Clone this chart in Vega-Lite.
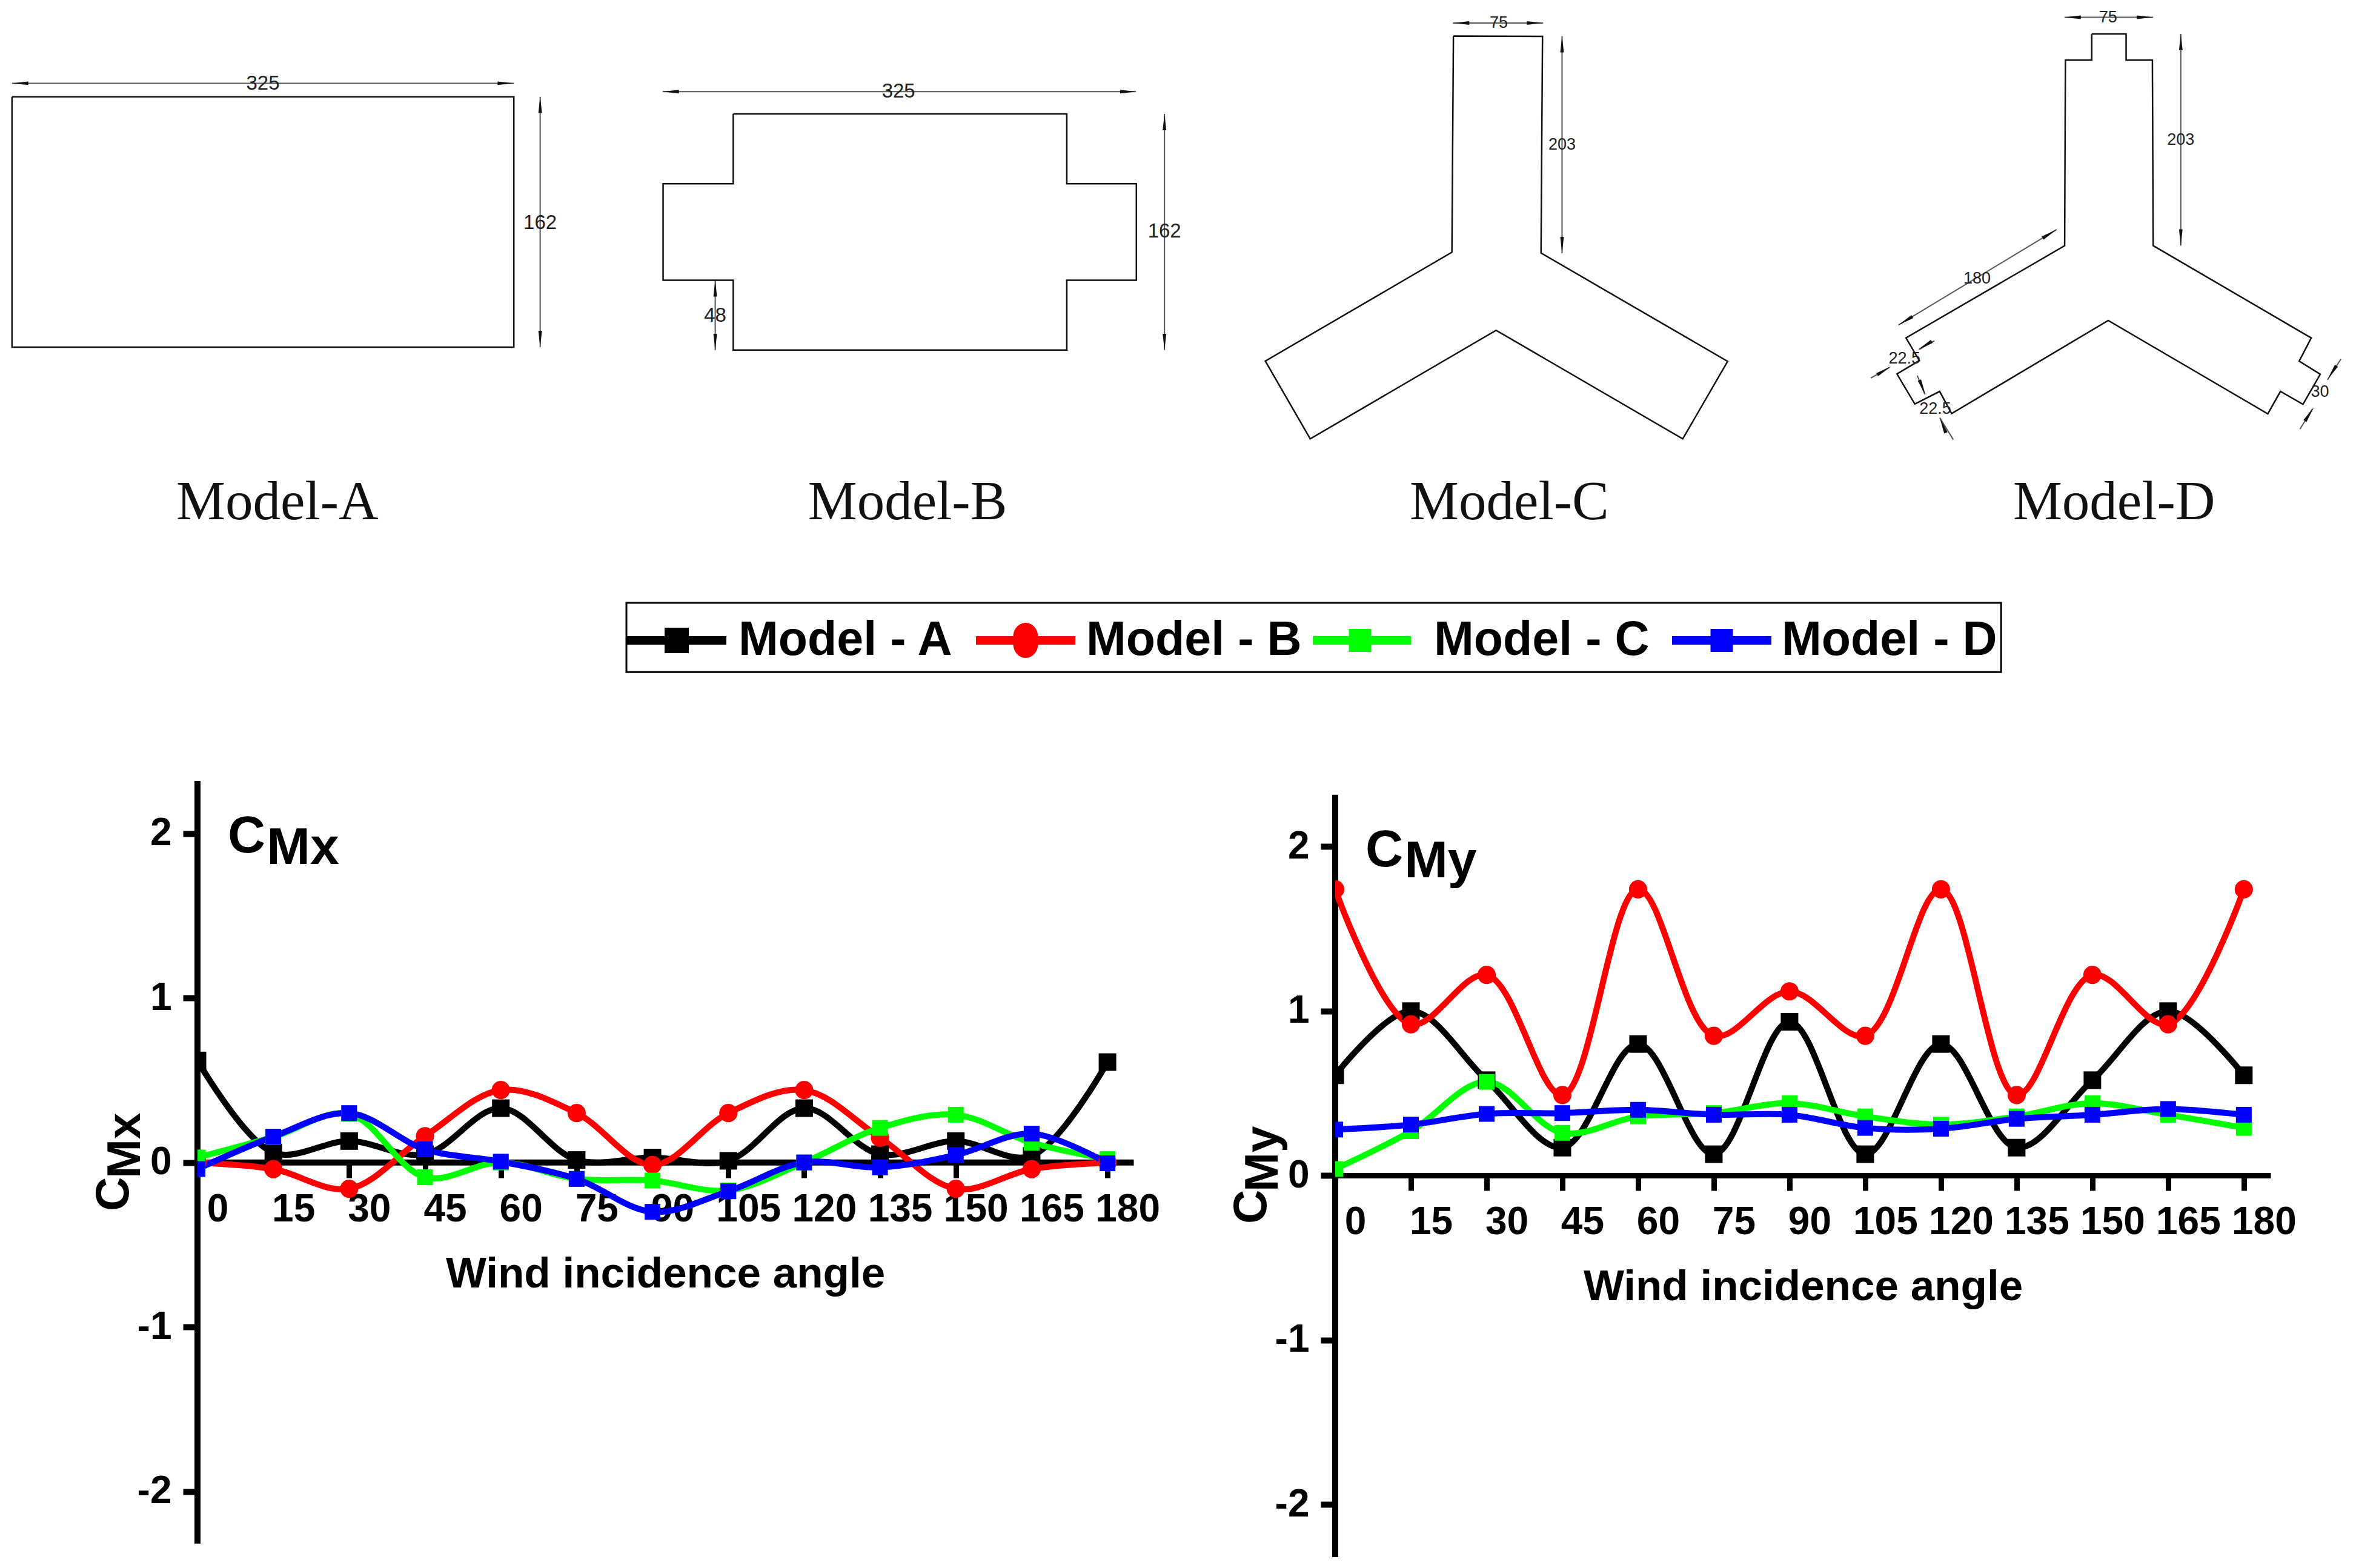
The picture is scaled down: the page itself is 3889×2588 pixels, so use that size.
{"$schema":"https://vega.github.io/schema/vega-lite/v6.json","padding":0,"background":"white","config":{"view":{"stroke":null},"font":"Liberation Sans"},
"datasets":{
"outline":[
{"p":"A","s":1,"x":8,"y":64.4},{"p":"A","s":2,"x":342,"y":64.4},{"p":"A","s":3,"x":342,"y":231},{"p":"A","s":4,"x":8,"y":231},{"p":"A","s":5,"x":8,"y":64.4},
{"p":"B","s":1,"x":488,"y":75.8},{"p":"B","s":2,"x":710,"y":75.8},{"p":"B","s":3,"x":710,"y":122.3},{"p":"B","s":4,"x":756.3,"y":122.3},{"p":"B","s":5,"x":756.3,"y":186.5},{"p":"B","s":6,"x":710,"y":186.5},{"p":"B","s":7,"x":710,"y":233},{"p":"B","s":8,"x":488,"y":233},{"p":"B","s":9,"x":488,"y":186.5},{"p":"B","s":10,"x":441.3,"y":186.5},{"p":"B","s":11,"x":441.3,"y":122.3},{"p":"B","s":12,"x":488,"y":122.3},{"p":"B","s":13,"x":488,"y":75.8},
{"p":"C","s":1,"x":967.3,"y":24},{"p":"C","s":2,"x":1026.6,"y":24.2},{"p":"C","s":3,"x":1025.6,"y":168.4},{"p":"C","s":4,"x":1149.8,"y":240.5},{"p":"C","s":5,"x":1119.9,"y":292.1},{"p":"C","s":6,"x":995.7,"y":219.8},{"p":"C","s":7,"x":872,"y":292.1},{"p":"C","s":8,"x":842.1,"y":240.3},{"p":"C","s":9,"x":966.3,"y":167.9},{"p":"C","s":10,"x":967.3,"y":24},
{"p":"D","s":1,"x":1392.1,"y":22.6},{"p":"D","s":2,"x":1415,"y":22.6},{"p":"D","s":3,"x":1415,"y":40},{"p":"D","s":4,"x":1432.5,"y":40},{"p":"D","s":5,"x":1433,"y":163.5},{"p":"D","s":6,"x":1538.2,"y":224.9},{"p":"D","s":7,"x":1530.2,"y":240.3},{"p":"D","s":8,"x":1544.2,"y":249.1},{"p":"D","s":9,"x":1532.7,"y":269.1},{"p":"D","s":10,"x":1517.7,"y":260.5},{"p":"D","s":11,"x":1509.3,"y":275.4},{"p":"D","s":12,"x":1403.1,"y":213.3},{"p":"D","s":13,"x":1298.9,"y":275.2},{"p":"D","s":14,"x":1290.9,"y":260.5},{"p":"D","s":15,"x":1274.4,"y":268.9},{"p":"D","s":16,"x":1262.5,"y":248.9},{"p":"D","s":17,"x":1277.4,"y":240},{"p":"D","s":18,"x":1268.5,"y":224.9},{"p":"D","s":19,"x":1374.1,"y":163.5},{"p":"D","s":20,"x":1374.6,"y":40},{"p":"D","s":21,"x":1392.1,"y":40},{"p":"D","s":22,"x":1392.1,"y":22.6}],
"dims":[
{"p":"a1","s":1,"x":8,"y":55.4},{"p":"a1","s":2,"x":342,"y":55.4},{"p":"a2","s":1,"x":359.5,"y":64.4},{"p":"a2","s":2,"x":359.5,"y":231},
{"p":"b1","s":1,"x":441,"y":61},{"p":"b1","s":2,"x":756,"y":61},{"p":"b2","s":1,"x":775,"y":75.8},{"p":"b2","s":2,"x":775,"y":233},{"p":"b3","s":1,"x":476,"y":186.5},{"p":"b3","s":2,"x":476,"y":233},
{"p":"c1","s":1,"x":967,"y":15.3},{"p":"c1","s":2,"x":1027,"y":15.3},{"p":"c2","s":1,"x":1039.6,"y":24},{"p":"c2","s":2,"x":1039.6,"y":168.5},
{"p":"d1","s":1,"x":1374,"y":11.5},{"p":"d1","s":2,"x":1433,"y":11.5},{"p":"d2","s":1,"x":1451.4,"y":22.6},{"p":"d2","s":2,"x":1451.4,"y":163.5},
{"p":"d3","s":1,"x":1368.7,"y":152.8},{"p":"d3","s":2,"x":1263.5,"y":216.3},
{"p":"d4","s":1,"x":1287.4,"y":226.8},{"p":"d4","s":2,"x":1277.4,"y":232.6},{"p":"d5","s":1,"x":1257.5,"y":244.5},{"p":"d5","s":2,"x":1245,"y":251.7},
{"p":"d6","s":1,"x":1276,"y":250},{"p":"d6","s":2,"x":1281,"y":262.4},{"p":"d7","s":1,"x":1291,"y":278},{"p":"d7","s":2,"x":1300,"y":292.6},
{"p":"d8","s":1,"x":1558,"y":238.9},{"p":"d8","s":2,"x":1549,"y":252.8},{"p":"d9","s":1,"x":1539,"y":272.1},{"p":"d9","s":2,"x":1530.7,"y":285.6}],
"arrows":[
{"x":13.4,"y":55.4,"a":270},{"x":336.6,"y":55.4,"a":90},{"x":359.5,"y":69.8,"a":0},{"x":359.5,"y":225.6,"a":180},
{"x":446.4,"y":61,"a":270},{"x":750.9,"y":61,"a":90},{"x":775,"y":81.2,"a":0},{"x":775,"y":227.6,"a":180},{"x":476,"y":191.9,"a":0},{"x":476,"y":227.6,"a":180},
{"x":972.4,"y":15.3,"a":270},{"x":1021.6,"y":15.3,"a":90},{"x":1039.6,"y":29.4,"a":0},{"x":1039.6,"y":163.1,"a":180},
{"x":1379.4,"y":11.5,"a":270},{"x":1427.6,"y":11.5,"a":90},{"x":1451.4,"y":28,"a":0},{"x":1451.4,"y":158.1,"a":180},
{"x":1364.1,"y":155.6,"a":59},{"x":1268.1,"y":213.5,"a":239},{"x":1281,"y":230,"a":239},{"x":1254,"y":246.6,"a":59},{"x":1279.5,"y":258,"a":158},{"x":1293,"y":283,"a":338},{"x":1552,"y":248,"a":213},{"x":1537,"y":275.6,"a":33}],
"dimLarge":[{"t":"325","x":175,"y":55.5},{"t":"162","x":359.5,"y":148.5},{"t":"325","x":598,"y":61},{"t":"162","x":775,"y":154},{"t":"48","x":476,"y":210}],
"dimSmall":[{"t":"75","x":997.5,"y":15.5},{"t":"203","x":1039.6,"y":96.5},{"t":"75","x":1403,"y":11.5},{"t":"203","x":1451.4,"y":93},{"t":"180","x":1315.8,"y":185.4},{"t":"22.5","x":1267.5,"y":238.9},{"t":"22.5","x":1288,"y":272},{"t":"30","x":1544,"y":261}],
"names":[{"t":"Model-A","x":184.6,"y":345.5},{"t":"Model-B","x":604,"y":345.5},{"t":"Model-C","x":1004.5,"y":345.5},{"t":"Model-D","x":1407,"y":345.5}],
"legendBox":[{"x":416.9,"x2":1331.8,"y":401.2,"y2":447.3}],
"cmx":[
{"angle":0,"model":"Model - A","value":0.62},{"angle":15,"model":"Model - A","value":0.06},{"angle":30,"model":"Model - A","value":0.13},{"angle":45,"model":"Model - A","value":0.05},{"angle":60,"model":"Model - A","value":0.33},{"angle":75,"model":"Model - A","value":0.015},{"angle":90,"model":"Model - A","value":0.03},{"angle":105,"model":"Model - A","value":0.01},{"angle":120,"model":"Model - A","value":0.33},{"angle":135,"model":"Model - A","value":0.05},{"angle":150,"model":"Model - A","value":0.13},{"angle":165,"model":"Model - A","value":0.04},{"angle":180,"model":"Model - A","value":0.61},
{"angle":0,"model":"Model - B","value":0},{"angle":15,"model":"Model - B","value":-0.04},{"angle":30,"model":"Model - B","value":-0.16},{"angle":45,"model":"Model - B","value":0.16},{"angle":60,"model":"Model - B","value":0.44},{"angle":75,"model":"Model - B","value":0.3},{"angle":90,"model":"Model - B","value":-0.015},{"angle":105,"model":"Model - B","value":0.3},{"angle":120,"model":"Model - B","value":0.44},{"angle":135,"model":"Model - B","value":0.15},{"angle":150,"model":"Model - B","value":-0.16},{"angle":165,"model":"Model - B","value":-0.04},{"angle":180,"model":"Model - B","value":0},
{"angle":0,"model":"Model - C","value":0.03},{"angle":15,"model":"Model - C","value":0.155},{"angle":30,"model":"Model - C","value":0.295},{"angle":45,"model":"Model - C","value":-0.09},{"angle":60,"model":"Model - C","value":0},{"angle":75,"model":"Model - C","value":-0.1},{"angle":90,"model":"Model - C","value":-0.11},{"angle":105,"model":"Model - C","value":-0.17},{"angle":120,"model":"Model - C","value":0},{"angle":135,"model":"Model - C","value":0.21},{"angle":150,"model":"Model - C","value":0.29},{"angle":165,"model":"Model - C","value":0.12},{"angle":180,"model":"Model - C","value":0.02},
{"angle":0,"model":"Model - D","value":-0.04},{"angle":15,"model":"Model - D","value":0.157},{"angle":30,"model":"Model - D","value":0.3},{"angle":45,"model":"Model - D","value":0.08},{"angle":60,"model":"Model - D","value":0.005},{"angle":75,"model":"Model - D","value":-0.1},{"angle":90,"model":"Model - D","value":-0.3},{"angle":105,"model":"Model - D","value":-0.175},{"angle":120,"model":"Model - D","value":0},{"angle":135,"model":"Model - D","value":-0.03},{"angle":150,"model":"Model - D","value":0.045},{"angle":165,"model":"Model - D","value":0.175},{"angle":180,"model":"Model - D","value":-0.005}],
"cmy":[
{"angle":0,"model":"Model - A","value":0.61},{"angle":15,"model":"Model - A","value":1},{"angle":30,"model":"Model - A","value":0.58},{"angle":45,"model":"Model - A","value":0.17},{"angle":60,"model":"Model - A","value":0.8},{"angle":75,"model":"Model - A","value":0.13},{"angle":90,"model":"Model - A","value":0.935},{"angle":105,"model":"Model - A","value":0.13},{"angle":120,"model":"Model - A","value":0.8},{"angle":135,"model":"Model - A","value":0.17},{"angle":150,"model":"Model - A","value":0.58},{"angle":165,"model":"Model - A","value":1},{"angle":180,"model":"Model - A","value":0.61},
{"angle":0,"model":"Model - B","value":1.74},{"angle":15,"model":"Model - B","value":0.92},{"angle":30,"model":"Model - B","value":1.22},{"angle":45,"model":"Model - B","value":0.49},{"angle":60,"model":"Model - B","value":1.74},{"angle":75,"model":"Model - B","value":0.85},{"angle":90,"model":"Model - B","value":1.12},{"angle":105,"model":"Model - B","value":0.85},{"angle":120,"model":"Model - B","value":1.74},{"angle":135,"model":"Model - B","value":0.49},{"angle":150,"model":"Model - B","value":1.22},{"angle":165,"model":"Model - B","value":0.92},{"angle":180,"model":"Model - B","value":1.74},
{"angle":0,"model":"Model - C","value":0.04},{"angle":15,"model":"Model - C","value":0.27},{"angle":30,"model":"Model - C","value":0.57},{"angle":45,"model":"Model - C","value":0.26},{"angle":60,"model":"Model - C","value":0.36},{"angle":75,"model":"Model - C","value":0.38},{"angle":90,"model":"Model - C","value":0.44},{"angle":105,"model":"Model - C","value":0.36},{"angle":120,"model":"Model - C","value":0.31},{"angle":135,"model":"Model - C","value":0.36},{"angle":150,"model":"Model - C","value":0.44},{"angle":165,"model":"Model - C","value":0.37},{"angle":180,"model":"Model - C","value":0.29},
{"angle":0,"model":"Model - D","value":0.28},{"angle":15,"model":"Model - D","value":0.31},{"angle":30,"model":"Model - D","value":0.375},{"angle":45,"model":"Model - D","value":0.38},{"angle":60,"model":"Model - D","value":0.4},{"angle":75,"model":"Model - D","value":0.37},{"angle":90,"model":"Model - D","value":0.37},{"angle":105,"model":"Model - D","value":0.29},{"angle":120,"model":"Model - D","value":0.285},{"angle":135,"model":"Model - D","value":0.345},{"angle":150,"model":"Model - D","value":0.37},{"angle":165,"model":"Model - D","value":0.405},{"angle":180,"model":"Model - D","value":0.37}]
},
"bounds":"flush","spacing":0,
"vconcat":[
{"width":3889,"height":1289,
"encoding":{"x":{"field":"x","type":"quantitative","axis":null,"scale":{"domain":[0,1568],"nice":false,"zero":false}},"y":{"field":"y","type":"quantitative","axis":null,"scale":{"domain":[519.76,0],"nice":false,"zero":false}}},
"layer":[
{"data":{"name":"legendBox"},"mark":{"type":"rect","fill":"white","stroke":"black","strokeWidth":3},"encoding":{"x2":{"field":"x2"},"y2":{"field":"y2"}}},
{"data":{"name":"dims"},"mark":{"type":"line","stroke":"#555555","strokeWidth":2},"encoding":{"detail":{"field":"p"},"order":{"field":"s","type":"quantitative"}}},
{"data":{"name":"outline"},"mark":{"type":"line","stroke":"#111111","strokeWidth":2.5},"encoding":{"detail":{"field":"p"},"order":{"field":"s","type":"quantitative"}}},
{"data":{"name":"arrows"},"mark":{"type":"point","filled":true,"fill":"#111111","stroke":null,"opacity":1,"shape":"M0,-1L0.22,1L-0.22,1Z","size":729},"encoding":{"angle":{"field":"a","type":"quantitative","scale":null}}},
{"data":{"name":"dimLarge"},"mark":{"type":"text","fontSize":33,"font":"Liberation Sans","color":"#222222"},"encoding":{"text":{"field":"t"}}},
{"data":{"name":"dimSmall"},"mark":{"type":"text","fontSize":27,"font":"Liberation Sans","color":"#222222"},"encoding":{"text":{"field":"t"}}},
{"data":{"name":"names"},"mark":{"type":"text","fontSize":91,"font":"Liberation Serif","color":"#111111","baseline":"alphabetic"},"encoding":{"text":{"field":"t"}}}
]},
{"bounds":"flush","spacing":325,
"hconcat":[
{"width":1,"height":1,"data":{"values":[]},"mark":{"type":"text"},"encoding":{}},
{"width":1553,"height":1281,"data":{"name":"cmx"},
"encoding":{"x":{"field":"angle","type":"quantitative","scale":{"domain":[0,186.1],"nice":false,"zero":false},"axis":{"values":[0,15,30,45,60,75,90,105,120,135,150,165,180],"title":"Wind incidence angle","titleFont":"Liberation Sans","titleFontSize":71,"titleFontWeight":"bold","titleColor":"black","titlePadding":40,"titleX":772,"labelFont":"Liberation Sans","labelFontSize":64,"labelFontWeight":"bold","labelColor":"black","labelOffset":33,"labelPadding":20,"labelFlush":false,"labelOverlap":false,"labelAngle":0,"domain":false,"tickColor":"black","tickWidth":9,"tickSize":25,"grid":false,"offset":-651}},
"y":{"field":"value","type":"quantitative","scale":{"domain":[-2.399,2.319],"nice":false,"zero":false},"axis":{"values":[-2,-1,0,1,2],"labelExpr":"''+datum.value","title":null,"labelFont":"Liberation Sans","labelFontSize":64,"labelFontWeight":"bold","labelColor":"black","labelPadding":19,"domain":false,"tickColor":"black","tickWidth":10,"tickSize":24,"grid":false}}},
"layer":[
{"data":{"values":[{"x0":0,"y1":-2.317,"y2":2.319}]},"mark":{"type":"rule","stroke":"black","strokeWidth":10},"encoding":{"x":{"field":"x0","type":"quantitative"},"y":{"field":"y1","type":"quantitative"},"y2":{"field":"y2"}}},
{"data":{"values":[{"x1":0,"x2":185.2,"y0":0}]},"mark":{"type":"rule","stroke":"black","strokeWidth":10},"encoding":{"x":{"field":"x1","type":"quantitative"},"x2":{"field":"x2"},"y":{"field":"y0","type":"quantitative"}}},
{"mark":{"type":"line","interpolate":"catmull-rom","strokeWidth":10,"clip":true},"encoding":{"color":{"field":"model","type":"nominal","scale":{"domain":["Model - A","Model - B","Model - C","Model - D"],"range":["#000000","#ff0000","#00ff00","#0000ff"]}}}},
{"transform":[{"filter":"datum.model==='Model - A'"}],"mark":{"type":"point","filled":true,"opacity":1,"shape":"square","size":841,"clip":true},"encoding":{"color":{"field":"model","type":"nominal"}}},
{"transform":[{"filter":"datum.model==='Model - B'"}],"mark":{"type":"point","filled":true,"opacity":1,"shape":"circle","size":908,"clip":true},"encoding":{"color":{"field":"model","type":"nominal"}}},
{"transform":[{"filter":"datum.model==='Model - C'||datum.model==='Model - D'"}],"mark":{"type":"point","filled":true,"opacity":1,"shape":"square","size":676,"clip":true},"encoding":{"color":{"field":"model","type":"nominal"}}},
{"data":{"values":[]},"mark":{"type":"point","filled":true},"encoding":{"x":{"field":"angle","type":"quantitative"},"y":{"field":"value","type":"quantitative"},"color":{"field":"model","type":"nominal","legend":{"orient":"none","legendX":1019,"legendY":1012,"columns":4,"columnPadding":18,"title":null,"padding":0,"symbolSize":8100,"symbolOpacity":1,"symbolStrokeWidth":0,"labelFont":"Liberation Sans","labelFontSize":79,"labelFontWeight":"bold","labelColor":"black","labelOffset":110,"labelLimit":600}},"shape":{"field":"model","type":"nominal","scale":{"domain":["Model - A","Model - B","Model - C","Model - D"],"range":["M-.644,-.156H.733V-.467H1.622V-.156H3V.156H1.622V.467H.733V.156H-.644Z","M-.6,-.156H.767A.456,.511 0 0 1 1.678,-.156H3.044V.156H1.678A.456,.511 0 0 1 .767,.156H-.6Z","M-1,-.156H.322V-.422H1.144V-.156H2.6V.156H1.144V.422H.322V.156H-1Z","M-.578,-.156H.833V-.422H1.656V-.156H3.067V.156H1.656V.422H.833V.156H-.578Z"]}}}},
{"data":{"values":[{"t":"C","a":6.0,"v":1.885}]},"mark":{"type":"text","fontSize":86,"fontWeight":"bold","font":"Liberation Sans","color":"black","align":"left","baseline":"alphabetic"},"encoding":{"x":{"field":"a","type":"quantitative"},"y":{"field":"v","type":"quantitative"},"text":{"field":"t"}}},
{"data":{"values":[{"t":"Mx","a":13.7,"v":1.816}]},"mark":{"type":"text","fontSize":86,"fontWeight":"bold","font":"Liberation Sans","color":"black","align":"left","baseline":"alphabetic"},"encoding":{"x":{"field":"a","type":"quantitative"},"y":{"field":"v","type":"quantitative"},"text":{"field":"t"}}},
{"data":{"values":[{"t":"C","a":-13.7,"v":-0.296}]},"mark":{"type":"text","fontSize":78,"fontWeight":"bold","font":"Liberation Sans","color":"black","align":"left","baseline":"alphabetic","angle":270},"encoding":{"x":{"field":"a","type":"quantitative"},"y":{"field":"v","type":"quantitative"},"text":{"field":"t"}}},
{"data":{"values":[{"t":"Mx","a":-11.4,"v":-0.097}]},"mark":{"type":"text","fontSize":78,"fontWeight":"bold","font":"Liberation Sans","color":"black","align":"left","baseline":"alphabetic","angle":270},"encoding":{"x":{"field":"a","type":"quantitative"},"y":{"field":"v","type":"quantitative"},"text":{"field":"t"}}}
]},
{"width":1544,"height":1281,"data":{"name":"cmy"},
"encoding":{"x":{"field":"angle","type":"quantitative","scale":{"domain":[0,185.3],"nice":false,"zero":false},"axis":{"values":[0,15,30,45,60,75,90,105,120,135,150,165,180],"title":"Wind incidence angle","titleFont":"Liberation Sans","titleFontSize":71,"titleFontWeight":"bold","titleColor":"black","titlePadding":40,"labelFont":"Liberation Sans","labelFontSize":64,"labelFontWeight":"bold","labelColor":"black","labelOffset":33,"labelPadding":20,"labelFlush":false,"labelOverlap":false,"labelAngle":0,"domainWidth":9,"domainColor":"black","tickColor":"black","tickWidth":9,"tickSize":25,"grid":false,"offset":-630}},
"y":{"field":"value","type":"quantitative","scale":{"domain":[-2.319,2.399],"nice":false,"zero":false},"axis":{"values":[-2,-1,0,1,2],"labelExpr":"''+datum.value","title":null,"labelFont":"Liberation Sans","labelFontSize":64,"labelFontWeight":"bold","labelColor":"black","labelPadding":19,"domain":false,"tickColor":"black","tickWidth":10,"tickSize":24,"grid":false}}},
"layer":[
{"data":{"values":[{"x0":0,"y1":-2.319,"y2":2.315}]},"mark":{"type":"rule","stroke":"black","strokeWidth":10},"encoding":{"x":{"field":"x0","type":"quantitative"},"y":{"field":"y1","type":"quantitative"},"y2":{"field":"y2"}}},
{"mark":{"type":"line","interpolate":"catmull-rom","strokeWidth":10,"clip":true},"encoding":{"color":{"field":"model","type":"nominal"}}},
{"transform":[{"filter":"datum.model==='Model - A'"}],"mark":{"type":"point","filled":true,"opacity":1,"shape":"square","size":841,"clip":true},"encoding":{"color":{"field":"model","type":"nominal"}}},
{"transform":[{"filter":"datum.model==='Model - B'"}],"mark":{"type":"point","filled":true,"opacity":1,"shape":"circle","size":908,"clip":true},"encoding":{"color":{"field":"model","type":"nominal"}}},
{"transform":[{"filter":"datum.model==='Model - C'||datum.model==='Model - D'"}],"mark":{"type":"point","filled":true,"opacity":1,"shape":"square","size":676,"clip":true},"encoding":{"color":{"field":"model","type":"nominal"}}},
{"data":{"values":[{"t":"C","a":6.0,"v":1.88}]},"mark":{"type":"text","fontSize":86,"fontWeight":"bold","font":"Liberation Sans","color":"black","align":"left","baseline":"alphabetic"},"encoding":{"x":{"field":"a","type":"quantitative"},"y":{"field":"v","type":"quantitative"},"text":{"field":"t"}}},
{"data":{"values":[{"t":"My","a":13.7,"v":1.814}]},"mark":{"type":"text","fontSize":86,"fontWeight":"bold","font":"Liberation Sans","color":"black","align":"left","baseline":"alphabetic"},"encoding":{"x":{"field":"a","type":"quantitative"},"y":{"field":"v","type":"quantitative"},"text":{"field":"t"}}},
{"data":{"values":[{"t":"C","a":-13.7,"v":-0.293}]},"mark":{"type":"text","fontSize":78,"fontWeight":"bold","font":"Liberation Sans","color":"black","align":"left","baseline":"alphabetic","angle":270},"encoding":{"x":{"field":"a","type":"quantitative"},"y":{"field":"v","type":"quantitative"},"text":{"field":"t"}}},
{"data":{"values":[{"t":"My","a":-11.4,"v":-0.098}]},"mark":{"type":"text","fontSize":78,"fontWeight":"bold","font":"Liberation Sans","color":"black","align":"left","baseline":"alphabetic","angle":270},"encoding":{"x":{"field":"a","type":"quantitative"},"y":{"field":"v","type":"quantitative"},"text":{"field":"t"}}}
]}
]}
]}
